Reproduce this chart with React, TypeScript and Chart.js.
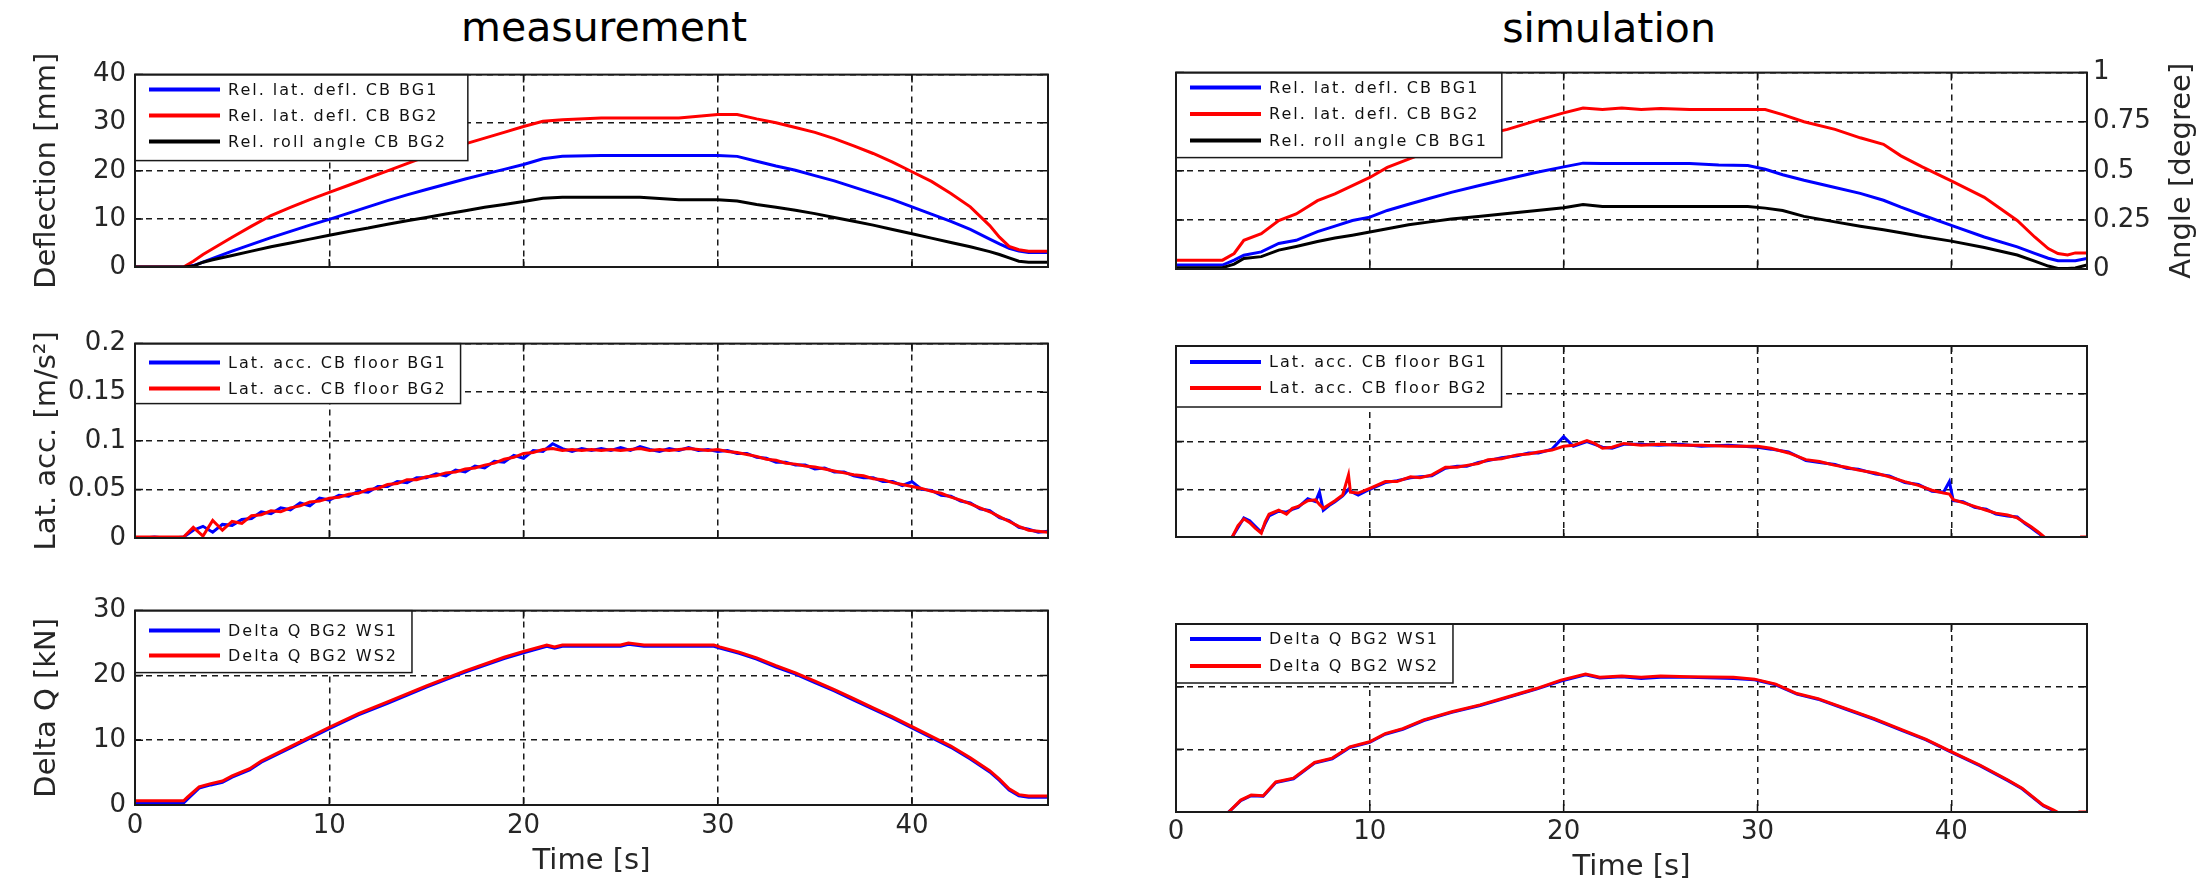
import React, { useEffect, useRef } from "react";
import { Chart, registerables } from "chart.js";

Chart.register(...registerables);

const FONT = "'DejaVu Sans', Verdana, sans-serif";
const BLUE = "#0000ff";
const RED = "#ff0000";
const BLACK = "#000000";
const TICK_COLOR = "#262626";
const GRID_COLOR = "#1a1a1a";

const TIME_TICKS = [0, 10, 20, 30, 40];
const TIME_MAX = 47;

// ---------- measurement: deflection [mm]
const tDeflMeas = [0, 2.5, 3, 3.5, 4, 5, 6, 7, 8, 9, 10, 11, 12, 13, 14, 15, 16, 17, 18, 19, 20, 21, 22, 24, 26, 28, 30, 31, 32, 33, 34, 35, 36, 37, 38, 39, 40, 41, 42, 43, 44, 44.5, 45, 45.5, 46, 47];
const deflMeasBG1 = [0, 0, 0.3, 1.0, 1.8, 3.3, 4.7, 6.1, 7.4, 8.7, 9.9, 11.2, 12.5, 13.8, 15.0, 16.1, 17.2, 18.3, 19.3, 20.3, 21.3, 22.5, 23.0, 23.2, 23.2, 23.2, 23.2, 23.0, 22.0, 21.0, 20.1, 19.0, 17.9, 16.6, 15.3, 14.0, 12.5, 11.0, 9.5, 7.8, 5.8, 4.8, 3.9, 3.3, 3.0, 3.0];
const deflMeasBG2 = [0, 0, 1.2, 2.6, 3.8, 6.2, 8.5, 10.7, 12.4, 14.0, 15.5, 17.0, 18.5, 20.0, 21.5, 23.0, 24.4, 25.6, 26.8, 28.0, 29.2, 30.3, 30.6, 31.0, 31.0, 31.0, 31.7, 31.7, 30.8, 30.0, 29.0, 28.0, 26.7, 25.2, 23.6, 21.8, 19.8, 17.8, 15.3, 12.5, 8.6, 6.2, 4.3, 3.6, 3.3, 3.3];
const rollMeasBG2 = [0, 0, 0.2, 1.0, 1.5, 2.4, 3.3, 4.2, 5.0, 5.8, 6.6, 7.4, 8.1, 8.9, 9.6, 10.3, 11.0, 11.7, 12.4, 13.0, 13.6, 14.3, 14.5, 14.5, 14.5, 14.0, 14.0, 13.7, 13.0, 12.4, 11.8, 11.1, 10.3, 9.5, 8.7, 7.8, 6.9, 6.0, 5.1, 4.2, 3.2, 2.6, 1.9, 1.2, 1.0, 1.0];

// ---------- simulation: deflection / angle (right axis units)
const tDeflSim = [0, 2.4, 3.0, 3.5, 4.4, 5.3, 6.2, 7.3, 8.2, 9.1, 10, 10.9, 12, 13.1, 14.2, 15.6, 17.1, 18.5, 20, 21, 22, 23, 24, 25, 26.5, 28, 29.5, 30.4, 31.3, 32.4, 34, 35.3, 36.5, 37.4, 38.5, 40, 41.7, 43.4, 44.3, 45, 45.5, 46, 46.4, 47];
const deflSimBG1 = [0.02, 0.02, 0.045, 0.07, 0.087, 0.13, 0.146, 0.19, 0.218, 0.247, 0.264, 0.298, 0.33, 0.36, 0.39, 0.424, 0.458, 0.49, 0.52, 0.539, 0.537, 0.537, 0.537, 0.537, 0.537, 0.53, 0.527, 0.508, 0.48, 0.452, 0.415, 0.385, 0.35, 0.315, 0.275, 0.222, 0.163, 0.113, 0.08, 0.055, 0.042, 0.042, 0.042, 0.054];
const deflSimBG2 = [0.045, 0.045, 0.079, 0.146, 0.18, 0.247, 0.28, 0.348, 0.382, 0.424, 0.466, 0.517, 0.559, 0.601, 0.635, 0.677, 0.711, 0.753, 0.795, 0.82, 0.812, 0.82, 0.812, 0.817, 0.812, 0.812, 0.812, 0.812, 0.786, 0.75, 0.711, 0.668, 0.635, 0.576, 0.52, 0.449, 0.365, 0.247, 0.163, 0.104, 0.079, 0.071, 0.082, 0.082];
const rollSimBG1 = [0.007, 0.007, 0.025, 0.054, 0.063, 0.096, 0.115, 0.14, 0.158, 0.172, 0.188, 0.205, 0.225, 0.24, 0.255, 0.267, 0.283, 0.297, 0.312, 0.328, 0.318, 0.318, 0.318, 0.318, 0.318, 0.318, 0.318, 0.31, 0.298, 0.268, 0.24, 0.218, 0.2, 0.185, 0.165, 0.142, 0.109, 0.071, 0.04, 0.015, 0.003, 0.003, 0.005, 0.02];

// ---------- measurement: lateral acceleration [m/s^2]
const tLatMeas = [0, 0.5, 1, 1.5, 2, 2.5, 3, 3.5, 4, 4.5, 5, 5.5, 6, 6.5, 7, 7.5, 8, 8.5, 9, 9.5, 10, 10.5, 11, 11.5, 12, 12.5, 13, 13.5, 14, 14.5, 15, 15.5, 16, 16.5, 17, 17.5, 18, 18.5, 19, 19.5, 20, 20.5, 21, 21.5, 22, 22.5, 23, 23.5, 24, 24.5, 25, 25.5, 26, 26.5, 27, 27.5, 28, 28.5, 29, 29.5, 30, 30.5, 31, 31.5, 32, 32.5, 33, 33.5, 34, 34.5, 35, 35.5, 36, 36.5, 37, 37.5, 38, 38.5, 39, 39.5, 40, 40.5, 41, 41.5, 42, 42.5, 43, 43.5, 44, 44.5, 45, 45.5, 46, 46.5, 47];
const latMeasBG1 = [0, 0, 0.001, 0, 0, 0.001,
  0.008, 0.012, 0.006, 0.014, 0.013, 0.019, 0.020, 0.027, 0.025, 0.031,
  0.029, 0.036, 0.033, 0.041, 0.039, 0.044, 0.043, 0.048, 0.047, 0.053,
  0.053, 0.058, 0.057, 0.062, 0.062, 0.066, 0.064, 0.070, 0.068, 0.074,
  0.072, 0.079, 0.078, 0.085, 0.082, 0.090, 0.089, 0.097, 0.092, 0.089,
  0.092, 0.090, 0.092, 0.090, 0.093, 0.090, 0.094, 0.091, 0.089, 0.092,
  0.090, 0.093, 0.090, 0.091, 0.089, 0.090, 0.087, 0.087, 0.083, 0.082,
  0.078, 0.078, 0.075, 0.075, 0.071, 0.072, 0.068, 0.068, 0.064, 0.062,
  0.062, 0.058, 0.058, 0.054, 0.058, 0.050, 0.049, 0.044, 0.043, 0.038,
  0.036, 0.030, 0.028, 0.021, 0.018, 0.011, 0.009, 0.006, 0.007];
const latMeasBG2 = [0.001, 0.001, 0.001, 0.001, 0.001, 0.001,
  0.011, 0.002, 0.018, 0.008, 0.017, 0.015, 0.023, 0.024, 0.028, 0.027,
  0.031, 0.033, 0.037, 0.038, 0.041, 0.042, 0.045, 0.046, 0.050, 0.051,
  0.055, 0.056, 0.060, 0.060, 0.063, 0.064, 0.067, 0.068, 0.071, 0.072,
  0.075, 0.077, 0.081, 0.083, 0.087, 0.088, 0.091, 0.092, 0.090, 0.091,
  0.090, 0.091, 0.090, 0.091, 0.090, 0.091, 0.092, 0.090, 0.091, 0.090,
  0.091, 0.092, 0.091, 0.090, 0.091, 0.089, 0.088, 0.086, 0.084, 0.081,
  0.080, 0.077, 0.076, 0.074, 0.073, 0.071, 0.069, 0.067, 0.065, 0.064,
  0.061, 0.060, 0.057, 0.055, 0.053, 0.051, 0.048, 0.046, 0.042, 0.039,
  0.035, 0.031, 0.027, 0.022, 0.017, 0.012, 0.008, 0.007, 0.006];

// ---------- simulation: lateral acceleration [m/s^2]
const tLatSim = [0, 2.8, 2.9, 3.2, 3.5, 3.8, 4.1, 4.4, 4.6, 4.8,
  5.3, 5.7, 6.0, 6.3, 6.8, 7.2, 7.4, 7.6, 7.9, 8.2,
  8.6, 8.9, 9.0, 9.4, 10, 10.8, 11.4, 12.1, 12.6, 13.2,
  13.9, 14.5, 15, 15.6, 16.1, 16.8, 17.6, 18.2, 18.7, 19.4,
  20, 20.5, 21.2, 21.6, 22, 22.5, 23.1, 24, 24.9, 26,
  27.1, 28.5, 30, 30.7, 31.6, 32.5, 33.2, 34, 34.6, 35.2,
  36.1, 36.8, 37.6, 38.3, 39, 39.6, 39.9, 40.1, 40.6, 41.2,
  41.8, 42.3, 42.9, 43.4, 43.8, 44.1, 44.5, 44.8, 45.2, 46.5,
  46.7, 47];
const latSimBG1 = [-0.01, -0.01, 0, 0.01, 0.02, 0.017, 0.011, 0.005, 0.014, 0.022,
  0.027, 0.026, 0.029, 0.031, 0.04, 0.037, 0.047, 0.028, 0.033, 0.037,
  0.043, 0.05, 0.048, 0.044, 0.05, 0.057, 0.059, 0.062, 0.063, 0.064,
  0.072, 0.074, 0.074, 0.078, 0.08, 0.083, 0.085, 0.088, 0.088, 0.092,
  0.105, 0.095, 0.1, 0.097, 0.094, 0.093, 0.097, 0.097, 0.096, 0.097,
  0.095, 0.096, 0.094, 0.092, 0.089, 0.08, 0.078, 0.076, 0.072, 0.071,
  0.066, 0.064, 0.057, 0.055, 0.048, 0.047, 0.058, 0.038, 0.037, 0.031,
  0.029, 0.024, 0.022, 0.021, 0.014, 0.01, 0.004, -0.001, -0.01, -0.01,
  -0.01, -0.01];
const latSimBG2 = [-0.01, -0.01, 0, 0.012, 0.019, 0.015, 0.009, 0.004, 0.016, 0.024,
  0.028, 0.024, 0.03, 0.032, 0.038, 0.039, 0.034, 0.03, 0.034, 0.038,
  0.044, 0.065, 0.047, 0.046, 0.051, 0.058, 0.058, 0.063, 0.062, 0.065,
  0.073, 0.073, 0.075, 0.077, 0.081, 0.082, 0.086, 0.087, 0.089, 0.091,
  0.095, 0.096, 0.101, 0.098, 0.093, 0.094, 0.098, 0.096, 0.097, 0.096,
  0.096, 0.095, 0.095, 0.093, 0.088, 0.081, 0.079, 0.075, 0.073, 0.070,
  0.067, 0.063, 0.058, 0.054, 0.049, 0.046, 0.045, 0.039, 0.036, 0.032,
  0.028, 0.025, 0.023, 0.02, 0.015, 0.011, 0.005, 0, -0.01, -0.01,
  0, 0];

// ---------- measurement: Delta Q [kN]
const tDQMeas = [0, 2.5, 2.7, 3.3, 3.9, 4.5, 5.0, 5.9, 6.5, 8, 10, 11.5, 13, 15, 17, 19, 20, 21.2, 21.6, 22, 25, 25.4, 26.2, 29.8, 30.1, 31.1, 32, 33, 34, 35, 36, 37, 38, 39, 40, 41, 42, 43, 44, 44.5, 45, 45.5, 46, 47];
const dqMeasWS1 = [0.3, 0.3, 0.9, 2.6, 3.1, 3.5, 4.3, 5.4, 6.6, 8.8, 11.8, 13.9, 15.7, 18.2, 20.5, 22.6, 23.5, 24.5, 24.2, 24.5, 24.5, 24.8, 24.5, 24.5, 24.2, 23.4, 22.5, 21.3, 20.2, 18.9, 17.6, 16.2, 14.8, 13.4, 11.9, 10.4, 8.9, 7.1, 5.1, 3.8, 2.3, 1.4, 1.2, 1.2];
const dqMeasWS2 = [0.65, 0.65, 1.2, 2.8, 3.3, 3.7, 4.5, 5.6, 6.8, 9.0, 12.0, 14.1, 15.9, 18.4, 20.7, 22.8, 23.7, 24.7, 24.4, 24.7, 24.7, 25.0, 24.7, 24.7, 24.4, 23.6, 22.7, 21.5, 20.4, 19.1, 17.8, 16.4, 15.0, 13.6, 12.1, 10.6, 9.1, 7.3, 5.3, 4.0, 2.5, 1.6, 1.4, 1.4];

// ---------- simulation: Delta Q [kN]
const tDQSim = [0, 2.5, 2.72, 3.34, 3.88, 4.5, 5.15, 6.06, 7.15, 8.06, 8.97, 9.99, 10.79, 11.7, 12.78, 14.23, 15.69, 17.14, 18.59, 19.86, 21.13, 21.86, 23, 24, 25, 26.5, 28.76, 29.85, 30.94, 32.03, 33.12, 34.57, 36.02, 37.47, 38.7, 40.02, 41.47, 42.92, 43.65, 44.74, 45.28, 45.46, 46.0, 46.6, 47];
const dqSimWS1 = [-1.5, -1.5, 0, 1.8, 2.6, 2.5, 4.7, 5.3, 7.8, 8.5, 10.3, 11.1, 12.4, 13.2, 14.6, 15.9, 17.0, 18.3, 19.6, 20.9, 21.9, 21.4, 21.6, 21.3, 21.5, 21.5, 21.3, 21.1, 20.3, 18.8, 18.0, 16.4, 14.8, 13.0, 11.5, 9.5, 7.4, 5.0, 3.7, 1.0, 0.2, -0.1, -1.5, -1.5, -1.5];
const dqSimWS2 = [-1.5, -1.5, 0, 1.9, 2.7, 2.6, 4.8, 5.4, 7.9, 8.6, 10.4, 11.2, 12.5, 13.3, 14.7, 16.0, 17.1, 18.4, 19.7, 21.05, 22.0, 21.5, 21.7, 21.5, 21.7, 21.6, 21.5, 21.2, 20.4, 18.9, 18.1, 16.5, 14.9, 13.1, 11.6, 9.6, 7.5, 5.1, 3.8, 1.1, 0.3, 0, -1.5, 0, 0];

// ---------- tick values
const deflTicks = [0, 10, 20, 30, 40];
const angleTicks = [0, 0.25, 0.5, 0.75, 1];
const accTicks = [0, 0.05, 0.1, 0.15, 0.2];
const dqTicks = [0, 10, 20, 30];

type Series = { label: string; color: string; t: number[]; v: number[] };
type Panel = {
  key: string;
  left: number; top: number; width: number; height: number;
  padTop: number; padLeft: number; padRight: number;
  yWidth: number; xHeight: number;
  yPos: "left" | "right";
  yMin: number; yMax: number; yTicks: number[]; yLabels: boolean;
  yTitle?: string; rightTitle?: string;
  xLabels: boolean; xTitle?: string; xTitlePad?: number; xTickPad?: number;
  series: Series[];
  legend: { padTop: number; rowH: number; padBottom: number; padRight: number };
};

const panels: Panel[] = [
  {
    key: "mTop", left: 0, top: 50, width: 1100, height: 250,
    padTop: 20, padLeft: 0, padRight: 52, yWidth: 135, xHeight: 33,
    yPos: "left", yMin: 0, yMax: 40, yTicks: deflTicks, yLabels: true,
    yTitle: "Deflection [mm]", xLabels: false,
    series: [
      { label: "Rel. lat. defl. CB BG1", color: BLUE, t: tDeflMeas, v: deflMeasBG1 },
      { label: "Rel. lat. defl. CB BG2", color: RED, t: tDeflMeas, v: deflMeasBG2 },
      { label: "Rel. roll angle CB BG2", color: BLACK, t: tDeflMeas, v: rollMeasBG2 },
    ],
    legend: { padTop: 15, rowH: 26, padBottom: 19, padRight: 21 },
  },
  {
    key: "mMid", left: 0, top: 319, width: 1100, height: 250,
    padTop: 20, padLeft: 0, padRight: 52, yWidth: 135, xHeight: 31,
    yPos: "left", yMin: 0, yMax: 0.2, yTicks: accTicks, yLabels: true,
    yTitle: "Lat. acc. [m/s²]", xLabels: false,
    series: [
      { label: "Lat. acc. CB floor BG1", color: BLUE, t: tLatMeas, v: latMeasBG1 },
      { label: "Lat. acc. CB floor BG2", color: RED, t: tLatMeas, v: latMeasBG2 },
    ],
    legend: { padTop: 19, rowH: 26, padBottom: 15, padRight: 14 },
  },
  {
    key: "mBot", left: 0, top: 586, width: 1100, height: 299,
    padTop: 20, padLeft: 0, padRight: 52, yWidth: 135, xHeight: 80,
    yPos: "left", yMin: 0, yMax: 30, yTicks: dqTicks, yLabels: true,
    yTitle: "Delta Q [kN]", xLabels: true, xTitle: "Time [s]", xTitlePad: 6, xTickPad: 6,
    series: [
      { label: "Delta Q BG2 WS1", color: BLUE, t: tDQMeas, v: dqMeasWS1 },
      { label: "Delta Q BG2 WS2", color: RED, t: tDQMeas, v: dqMeasWS2 },
    ],
    legend: { padTop: 20, rowH: 25, padBottom: 17, padRight: 14 },
  },
  {
    key: "sTop", left: 1100, top: 51, width: 1103, height: 249,
    padTop: 20, padLeft: 76, padRight: 0, yWidth: 116, xHeight: 31,
    yPos: "right", yMin: 0, yMax: 1, yTicks: angleTicks, yLabels: true,
    rightTitle: "Angle [degree]", xLabels: false,
    series: [
      { label: "Rel. lat. defl. CB BG1", color: BLUE, t: tDeflSim, v: deflSimBG1 },
      { label: "Rel. lat. defl. CB BG2", color: RED, t: tDeflSim, v: deflSimBG2 },
      { label: "Rel. roll angle CB BG1", color: BLACK, t: tDeflSim, v: rollSimBG1 },
    ],
    legend: { padTop: 15, rowH: 26.5, padBottom: 17, padRight: 14 },
  },
  {
    key: "sMid", left: 1100, top: 326, width: 1103, height: 243,
    padTop: 20, padLeft: 0, padRight: 116, yWidth: 76, xHeight: 32,
    yPos: "left", yMin: 0, yMax: 0.2, yTicks: accTicks, yLabels: false,
    xLabels: false,
    series: [
      { label: "Lat. acc. CB floor BG1", color: BLUE, t: tLatSim, v: latSimBG1 },
      { label: "Lat. acc. CB floor BG2", color: RED, t: tLatSim, v: latSimBG2 },
    ],
    legend: { padTop: 16, rowH: 26, padBottom: 19, padRight: 14 },
  },
  {
    key: "sBot", left: 1100, top: 604, width: 1103, height: 281,
    padTop: 20, padLeft: 0, padRight: 116, yWidth: 76, xHeight: 73,
    yPos: "left", yMin: 0, yMax: 30, yTicks: dqTicks, yLabels: false,
    xLabels: true, xTitle: "Time [s]", xTitlePad: 0, xTickPad: 5,
    series: [
      { label: "Delta Q BG2 WS1", color: BLUE, t: tDQSim, v: dqSimWS1 },
      { label: "Delta Q BG2 WS2", color: RED, t: tDQSim, v: dqSimWS2 },
    ],
    legend: { padTop: 15, rowH: 27, padBottom: 17, padRight: 14 },
  },
];

const framePlugin = {
  id: "matFrame",
  afterDatasetsDraw(chart: any, _args: any, opts: any) {
    const { ctx, chartArea: a } = chart;
    const xs = chart.scales.x;
    const ys = chart.scales.y;
    ctx.save();
    ctx.setLineDash([]);
    // inner tick marks
    ctx.strokeStyle = "#111";
    ctx.lineWidth = 1.5;
    ctx.beginPath();
    for (const v of TIME_TICKS) {
      const px = xs.getPixelForValue(v);
      ctx.moveTo(px, a.bottom); ctx.lineTo(px, a.bottom - 8);
      ctx.moveTo(px, a.top); ctx.lineTo(px, a.top + 8);
    }
    for (const t of ys.ticks) {
      const py = ys.getPixelForValue(t.value);
      ctx.moveTo(a.left, py); ctx.lineTo(a.left + 8, py);
      ctx.moveTo(a.right, py); ctx.lineTo(a.right - 8, py);
    }
    ctx.stroke();

    // legend box
    const ds = chart.data.datasets;
    ctx.font = `16px ${FONT}`;
    (ctx as any).letterSpacing = "2px";
    const tw = Math.max(...ds.map((d: any) => ctx.measureText(d.label).width));
    const bx = a.left;
    const by = a.top;
    const bw = 93 + tw + opts.padRight;
    const bh = opts.padTop + (ds.length - 1) * opts.rowH + opts.padBottom;
    ctx.fillStyle = "#ffffff";
    ctx.fillRect(bx, by, bw, bh);
    ctx.lineWidth = 1.5;
    ctx.strokeStyle = "#1a1a1a";
    ctx.strokeRect(bx, by, bw, bh);
    ds.forEach((d: any, i: number) => {
      const y = by + opts.padTop + i * opts.rowH;
      ctx.strokeStyle = d.borderColor;
      ctx.lineWidth = 4;
      ctx.beginPath();
      ctx.moveTo(bx + 14, y);
      ctx.lineTo(bx + 85, y);
      ctx.stroke();
      ctx.fillStyle = "#111";
      ctx.textAlign = "left";
      ctx.textBaseline = "middle";
      ctx.fillText(d.label, bx + 93, y + 1);
    });
    (ctx as any).letterSpacing = "0px";

    // axes frame
    ctx.lineWidth = 2;
    ctx.strokeStyle = "#1a1a1a";
    ctx.strokeRect(a.left, a.top, a.width, a.height);

    // right-hand axis title (reads bottom to top)
    if (opts.rightTitle) {
      ctx.save();
      ctx.translate(chart.width - 21, (a.top + a.bottom) / 2);
      ctx.rotate(-Math.PI / 2);
      ctx.font = `29px ${FONT}`;
      ctx.fillStyle = TICK_COLOR;
      ctx.textAlign = "center";
      ctx.textBaseline = "middle";
      ctx.fillText(opts.rightTitle, 0, 0);
      ctx.restore();
    }
    ctx.restore();
  },
};

const fmt = (v: any) => `${+v}`;

function buildConfig(p: Panel): any {
  const n = p.series.length;
  const datasets = p.series.map((s, i) => ({
    label: s.label,
    data: s.t.map((t, j) => ({ x: t, y: s.v[j] })),
    borderColor: s.color,
    backgroundColor: s.color,
    borderWidth: 3,
    pointRadius: 0,
    tension: 0,
    fill: false,
    order: n - i,
  }));
  return {
    type: "line",
    data: { datasets },
    plugins: [framePlugin],
    options: {
      animation: false,
      responsive: false,
      devicePixelRatio: 1,
      layout: { padding: { top: p.padTop, left: p.padLeft, right: p.padRight, bottom: 0 } },
      plugins: {
        legend: { display: false },
        tooltip: { enabled: false },
        matFrame: { ...p.legend, rightTitle: p.rightTitle },
      },
      scales: {
        x: {
          type: "linear",
          min: 0,
          max: TIME_MAX,
          afterBuildTicks: (s: any) => { s.ticks = TIME_TICKS.map((v) => ({ value: v })); },
          afterFit: (s: any) => { s.height = p.xHeight; },
          ticks: {
            display: p.xLabels,
            font: { family: FONT, size: 26 },
            color: TICK_COLOR,
            padding: p.xTickPad ?? 6,
            maxRotation: 0,
            autoSkip: false,
            callback: fmt,
          },
          grid: { color: GRID_COLOR, lineWidth: 1.5, drawTicks: false },
          border: { display: false, dash: [6, 5] },
          title: {
            display: !!p.xTitle,
            text: p.xTitle || "",
            font: { family: FONT, size: 29 },
            color: TICK_COLOR,
            padding: { top: 0, bottom: p.xTitlePad ?? 0 },
          },
        },
        y: {
          type: "linear",
          position: p.yPos,
          min: p.yMin,
          max: p.yMax,
          afterBuildTicks: (s: any) => { s.ticks = p.yTicks.map((v) => ({ value: v })); },
          afterFit: (s: any) => { s.width = p.yWidth; },
          ticks: {
            display: p.yLabels,
            font: { family: FONT, size: 26 },
            color: TICK_COLOR,
            padding: p.yPos === "right" ? 6 : 9,
            autoSkip: false,
            callback: fmt,
          },
          grid: { color: GRID_COLOR, lineWidth: 1.5, drawTicks: false },
          border: { display: false, dash: [6, 5] },
          title: {
            display: !!p.yTitle,
            text: p.yTitle || "",
            font: { family: FONT, size: 29 },
            color: TICK_COLOR,
            padding: { top: 30, bottom: 0 },
          },
        },
      },
    },
  };
}

function ChartPanel({ p }: { p: Panel }) {
  const ref = useRef<HTMLCanvasElement | null>(null);
  useEffect(() => {
    const chart = new Chart(ref.current as HTMLCanvasElement, buildConfig(p));
    return () => chart.destroy();
  }, [p]);
  return (
    <canvas
      ref={ref}
      width={p.width}
      height={p.height}
      style={{ position: "absolute", left: p.left, top: p.top, width: p.width, height: p.height, display: "block" }}
    />
  );
}

const titleStyle = (cx: number, top: number): React.CSSProperties => ({
  position: "absolute",
  left: cx,
  top,
  transform: "translateX(-50%)",
  fontFamily: FONT,
  fontSize: 41,
  lineHeight: "41px",
  color: "#000",
  whiteSpace: "nowrap",
});

export default function App() {
  return (
    <div style={{ position: "absolute", left: 0, top: 0, width: 2203, height: 885, background: "#fff", overflow: "hidden" }}>
      <div style={titleStyle(604, 7)}>measurement</div>
      <div style={titleStyle(1609, 8)}>simulation</div>
      {panels.map((p) => (
        <ChartPanel key={p.key} p={p} />
      ))}
    </div>
  );
}
